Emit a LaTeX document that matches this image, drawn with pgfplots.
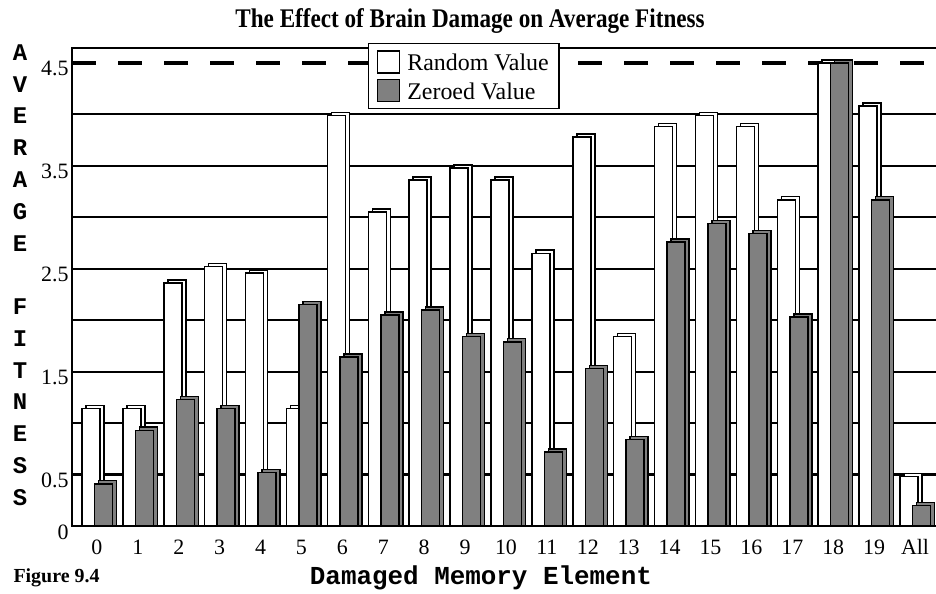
\documentclass[border=0pt]{standalone}
\usepackage{fontspec}
\setmainfont{Liberation Serif}
\setmonofont{Liberation Mono}
\newfontfamily\titlefont[FakeStretch=0.86]{Liberation Serif}
\usepackage{pgfplots}
\usepackage{pgfplotstable}
\pgfplotsset{compat=1.18}
\definecolor{bargray}{HTML}{808080}
\pgfplotstableread{
i r z
0 1.14 0.41
1 1.14 0.93
2 2.36 1.23
3 2.52 1.14
4 2.46 0.52
5 1.14 2.15
6 3.99 1.64
7 3.05 2.05
8 3.36 2.10
9 3.48 1.84
10 3.36 1.79
11 2.65 0.72
12 3.78 1.53
13 1.84 0.84
14 3.88 2.76
15 3.99 2.94
16 3.88 2.84
17 3.17 2.03
18 4.50 4.50
19 4.08 3.17
20 0.48 0.20
}\fitdata
\begin{document}
\begin{tikzpicture}
\useasboundingbox (0,0) rectangle (936bp,594bp);
\begin{axis}[
  at={(72bp,68bp)}, anchor=south west,
  scale only axis, width=870bp, height=478bp,
  xmin=-0.61, xmax=20.66, ymin=0, ymax=4.645,
  xtick={0,...,20},
  xticklabels={0,1,2,3,4,5,6,7,8,9,10,11,12,13,14,15,16,17,18,19,All},
  ytick={0,0.5,1.5,2.5,3.5},
  yticklabels={0,0.5,1.5,2.5,3.5},
  extra y ticks={4.5}, extra y tick labels={4.5},
  extra y tick style={grid=none},
  minor ytick={1,2,3,4},
  ymajorgrids, yminorgrids,
  major grid style={black, line width=2.2bp},
  minor grid style={black, line width=2.2bp},
  major tick length=0pt, minor tick length=0pt,
  axis line style={black, line width=2.5bp},
  tick label style={font=\fontsize{22}{22}\selectfont},
  xticklabel style={text height=15bp, text depth=0bp, yshift=-10bp},
  yticklabel style={yshift=-6bp},
  title={The Effect of Brain Damage on Average Fitness},
  title style={at={(axis description cs:0.4575,1.043)}, anchor=center, font=\fontsize{27}{27}\titlefont\bfseries},
  xlabel={Damaged Memory Element},
  xlabel style={at={(axis description cs:0.470,-0.1088)}, anchor=center, font=\fontsize{26}{26}\selectfont\ttfamily\bfseries},
  ylabel={A\\V\\E\\R\\A\\G\\E\\\strut\\F\\I\\T\\N\\E\\S\\S},
  ylabel style={rotate=-90, at={(axis description cs:-0.0598,0.525)}, anchor=center, align=center, font=\fontsize{24}{31.9}\selectfont\ttfamily\bfseries},
  legend style={at={(axis description cs:0.340,1.0105)}, anchor=north west, draw=black, line width=1.5bp, fill=white,
    font=\fontsize{24}{24}\selectfont, inner xsep=8bp, inner ysep=6bp, row sep=5bp, cells={anchor=west},
    /tikz/every odd column/.append style={column sep=5bp}},
]
\addplot[forget plot, black, line width=4bp, dash pattern=on 24bp off 22bp] coordinates {(-0.61,4.5) (20.66,4.5)};
\addplot[forget plot, ybar, bar width=18bp, bar shift=-2bp, fill=white, draw=black, line width=1.5bp]
  table[x=i, y expr=\thisrow{r}+0.03] {\fitdata};
\addplot[ybar, bar width=18bp, bar shift=-6bp, fill=white, draw=black, line width=1.5bp,
  legend image code/.code={\draw[fill=white, draw=black, line width=1.8bp] (0bp,-10bp) rectangle (22bp,12bp);}]
  table[x=i, y=r] {\fitdata};
\addlegendentry{Random Value}
\addplot[forget plot, ybar, bar width=18bp, bar shift=10.5bp, fill=bargray, draw=black, line width=1.5bp]
  table[x=i, y expr=\thisrow{z}+0.03] {\fitdata};
\addplot[ybar, bar width=18bp, bar shift=6.5bp, fill=bargray, draw=black, line width=1.5bp,
  legend image code/.code={\draw[fill=bargray, draw=black, line width=1.8bp] (0bp,-10bp) rectangle (22bp,12bp);}]
  table[x=i, y=z] {\fitdata};
\addlegendentry{Zeroed Value}
\end{axis}
\node[anchor=west, font=\fontsize{20}{20}\selectfont\bfseries] at (10bp,16bp) {Figure 9.4};
\end{tikzpicture}
\end{document}
